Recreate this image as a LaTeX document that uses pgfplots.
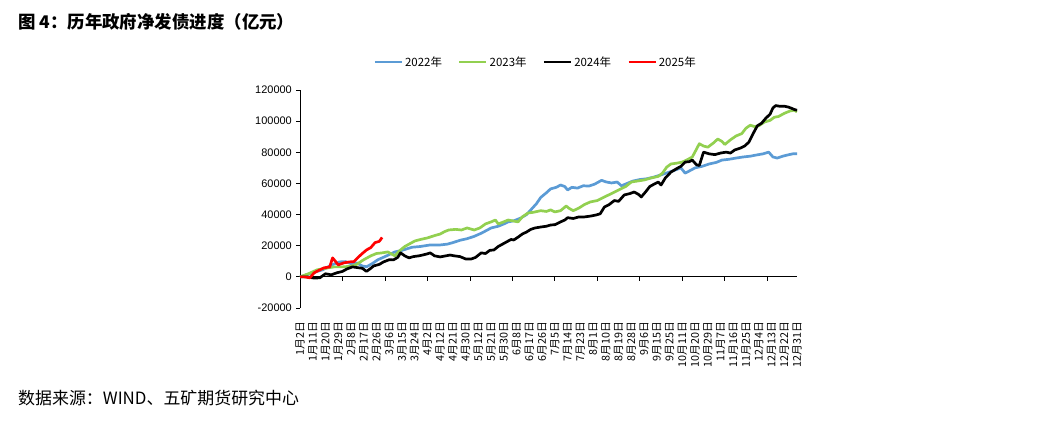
\documentclass[border=0pt]{standalone}
\usepackage{fontspec}
\setmainfont{Liberation Sans}
\newfontfamily\cjk{Noto Sans CJK SC}
\usepackage{pgfplots}
\pgfplotsset{compat=1.18}
\definecolor{c22}{HTML}{5B9BD5}
\definecolor{c23}{HTML}{92D050}
\definecolor{c25}{HTML}{FF0000}
\begin{document}
\begin{tikzpicture}
\path[use as bounding box] (0bp,0bp) rectangle (1060bp,423bp);
\node[anchor=west,inner sep=0pt,font=\cjk\bfseries\fontsize{17.5}{19}\selectfont] at (18bp,401bp) {图 4：历年政府净发债进度（亿元）};
\node[anchor=west,inner sep=0pt,font=\cjk\fontsize{17}{19}\selectfont] at (18bp,25bp) {数据来源：WIND、五矿期货研究中心};
\begin{axis}[
    at={(300bp,115bp)}, anchor=south west,
    scale only axis, width=497bp, height=218bp,
    xmin=0, xmax=351, ymin=-20000, ymax=120000,
    clip=false,
    axis x line*=bottom, axis y line*=left,
    x axis line style={draw=none},
    y axis line style={black, line width=0.8bp},
    xtick={0,9,...,351},
    xticklabels={1月2日,1月11日,1月20日,1月29日,2月8日,2月17日,2月26日,3月6日,3月15日,3月24日,4月2日,4月12日,4月21日,4月30日,5月12日,5月21日,5月30日,6月8日,6月17日,6月26日,7月5日,7月14日,7月23日,8月1日,8月10日,8月19日,8月28日,9月6日,9月15日,9月25日,10月11日,10月20日,10月29日,11月7日,11月16日,11月25日,12月4日,12月13日,12月22日,12月31日},
    xtick style={draw=none},
    xticklabel style={rotate=90, anchor=east, inner sep=0pt, font=\cjk\fontsize{10.8}{12}\selectfont},
    xticklabel shift=10bp,
    ytick={-20000,0,...,120000},
    scaled y ticks=false,
    ytick style={black, line width=0.8bp},
    major tick length=4bp, tick align=outside,
    yticklabel style={font=\fontsize{11}{13}\selectfont, inner sep=0pt},
    yticklabel shift=4bp,
    /pgf/number format/.cd, fixed, 1000 sep={}, assume math mode=true,
    /pgfplots/.cd,
    legend columns=4,
    legend style={at={(0.474,1.128)}, anchor=center, draw=none, fill=none,
        font=\cjk\fontsize{11.5}{13}\selectfont,
        /tikz/every even column/.append style={column sep=14bp}},
    legend image code/.code={\draw[#1] (0bp,0bp) -- (27bp,0bp);},
    every axis plot/.append style={line width=2.7bp, line join=round},
]
\draw[black, line width=0.8bp] (axis cs:0,0) -- (axis cs:351,0);
\pgfplotsinvokeforeach{30,60,...,330}{\draw[black, line width=0.8bp] (axis cs:#1,0) -- (axis cs:#1,-2600);}

%-- 2022
\addplot[c22] coordinates {
(0,0) (5,1500) (10,3000) (16,4500) (22,7500) (28,9600) (32,9800) (36,8500) (40,9000) (44,7000) (47,6500) (51,8500) (55,11000) (60,13000) (67,16000) (72,17000) (79,19000) (85,19500) (92,20500) (99,20500) (104,21000) (108,22000) (113,23500) (118,24500) (123,26000) (128,28000) (135,31400) (140,32500) (144,34000) (147,35300) (151,36000) (156,37800) (160,40000) (163,43000) (167,47000) (170,51000) (174,54000) (177,56500) (181,57500) (184,59000) (187,58000) (189,55800) (192,57500) (196,57000) (200,58500) (204,58300) (208,59500) (213,62000) (216,61000) (220,60300) (224,60900) (227,58500) (231,60000) (235,61500) (240,62500) (245,63000) (250,64100) (255,65500) (260,67000) (265,68600) (269,70000) (272,66600) (276,68500) (279,70000) (284,71000) (289,72500) (294,73500) (298,75000) (303,75500) (308,76300) (313,77000) (318,77500) (322,78200) (327,79000) (331,80100) (334,77000) (337,76300) (341,77500) (344,78200) (348,79000) (351,79000)
};
\addlegendentry{2022年}
%-- 2023
\addplot[c23] coordinates {
(0,0) (6,2000) (12,4500) (18,5500) (24,6400) (30,6400) (36,6800) (40,8000) (45,11000) (50,13500) (54,15000) (58,15400) (62,16000) (65,14500) (67,13500) (70,16500) (74,19500) (78,21500) (81,23000) (85,24000) (90,25000) (95,26500) (99,27500) (102,29000) (105,30100) (110,30500) (114,30100) (118,31400) (123,30100) (127,31400) (131,34000) (135,35300) (138,36500) (140,34000) (143,35000) (147,36500) (150,36000) (154,35300) (157,38500) (161,41000) (165,41500) (170,42500) (174,42000) (177,43000) (180,41700) (184,42500) (188,45500) (190,44000) (193,42500) (197,44200) (201,46500) (205,48100) (210,49000) (215,51300) (220,53500) (225,55800) (230,58000) (234,60900) (238,61500) (243,62200) (248,63500) (253,64500) (256,66600) (259,70500) (262,72500) (266,73000) (270,73700) (274,75500) (277,76900) (280,82000) (282,85500) (285,84000) (288,83300) (292,86000) (295,88500) (298,87000) (300,85000) (304,88000) (308,90500) (312,92000) (315,95500) (318,97400) (321,96500) (324,97000) (328,99400) (332,100500) (335,102500) (338,103000) (342,105000) (346,106500) (349,107000) (351,106000)
};
\addlegendentry{2023年}
%-- 2024
\addplot[black] coordinates {
(0,0) (5,0) (10,-800) (14,-600) (18,2000) (22,1300) (26,2600) (30,3500) (33,5000) (37,6400) (40,6000) (44,5500) (47,3500) (50,5500) (52,7000) (56,8000) (59,9600) (63,11000) (66,10900) (69,12500) (71,15400) (74,13500) (77,12200) (80,13000) (84,13500) (87,14100) (90,14800) (92,15400) (95,13500) (99,12800) (103,13500) (106,14000) (109,13500) (113,13000) (117,11500) (121,11500) (124,12500) (128,15400) (131,15000) (134,17000) (137,17300) (140,19500) (142,20500) (146,22500) (149,24000) (151,23700) (154,25500) (157,27500) (160,28800) (163,30500) (166,31400) (170,32000) (174,32500) (177,33300) (180,33500) (184,35300) (187,36500) (189,38000) (193,37500) (197,38500) (201,38500) (205,39000) (209,39700) (212,40500) (215,44900) (218,46200) (222,49000) (225,48500) (229,52600) (233,53500) (236,54500) (239,53000) (241,51300) (244,54500) (247,58000) (250,59500) (253,60900) (255,59000) (258,63500) (262,67300) (266,69500) (269,71000) (272,73700) (275,74000) (277,75000) (280,72000) (282,71500) (285,80100) (289,79000) (293,78500) (297,79500) (301,80100) (304,79500) (307,81500) (311,82700) (314,84000) (317,86500) (320,92000) (323,97000) (326,98700) (329,101900) (332,104500) (334,108500) (336,110000) (339,109500) (342,109600) (345,109000) (347,108300) (349,107500) (351,107000)
};
\addlegendentry{2024年}
%-- 2025
\addplot[c25] coordinates {
(0,0) (3,0) (7,-600) (10,2600) (14,4500) (17,5800) (21,6400) (23,12200) (25,10000) (27,7700) (31,9000) (35,9600) (38,9800) (41,12500) (44,15000) (47,17300) (50,18800) (53,22000) (56,22800) (58,25300)
};
\addlegendentry{2025年}
\end{axis}
\end{tikzpicture}
\end{document}
